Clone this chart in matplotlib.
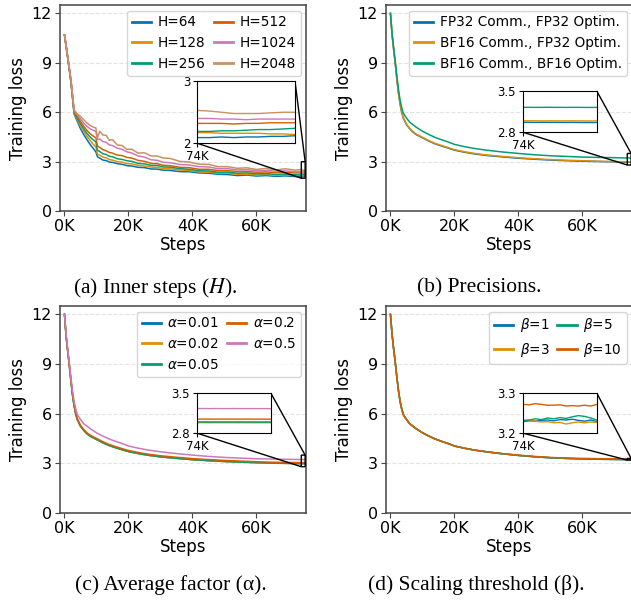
import matplotlib.pyplot as plt
import numpy as np
from matplotlib.ticker import FuncFormatter

pal = ['#0173b2', '#de8f05', '#029e73', '#d55e00', '#cc78bc', '#ca9161']

# (a) inner steps H  -- steps in K
steps_a = [0, 1, 2, 3, 4, 5, 6, 7, 8, 9, 9.8, 10.3, 11, 12, 13, 14, 15, 16.5, 18, 19.5,
           21, 23, 25, 27, 29, 31, 33, 36, 39, 42, 45, 48, 51, 54, 57, 60, 63, 66, 69, 72,
           74, 74.15, 74.3, 74.45, 74.6, 74.75, 74.9, 75.05, 75.2, 75.5]
h_labels = ['H=64', 'H=128', 'H=256', 'H=512', 'H=1024', 'H=2048']
loss_h64 = [10.7, 9.3, 7.85, 5.9, 5.45, 5.0, 4.65, 4.35, 4.05, 3.8, 3.6, 3.3, 3.22, 3.1, 3.07, 2.98, 2.96, 2.88, 2.84, 2.76,
            2.74, 2.66, 2.64, 2.56, 2.55, 2.48, 2.47, 2.4, 2.39, 2.32, 2.3, 2.24, 2.22, 2.16, 2.19, 2.13, 2.16, 2.11, 2.14, 2.1,
            2.09, 2.09, 2.10, 2.09, 2.10, 2.10, 2.11, 2.11, 2.12, 2.12]
loss_h128 = [10.7, 9.3, 7.9, 5.95, 5.55, 5.15, 4.85, 4.55, 4.3, 4.05, 3.9, 3.45, 3.4, 3.28, 3.24, 3.13, 3.1, 3.0, 2.97, 2.88,
             2.87, 2.78, 2.74, 2.68, 2.65, 2.58, 2.57, 2.5, 2.46, 2.38, 2.37, 2.31, 2.3, 2.24, 2.24, 2.19, 2.22, 2.17, 2.21, 2.16,
             2.17, 2.17, 2.16, 2.16, 2.16, 2.16, 2.15, 2.15, 2.14, 2.14]
loss_h256 = [10.7, 9.35, 7.9, 6.0, 5.65, 5.3, 5.0, 4.72, 4.5, 4.32, 4.2, 3.7, 3.62, 3.48, 3.44, 3.33, 3.3, 3.18, 3.14, 3.06,
             3.02, 2.9, 2.87, 2.78, 2.77, 2.68, 2.67, 2.58, 2.54, 2.45, 2.44, 2.36, 2.37, 2.3, 2.32, 2.26, 2.28, 2.23, 2.25, 2.21,
             2.19, 2.19, 2.2, 2.2, 2.21, 2.22, 2.22, 2.23, 2.24, 2.25]
loss_h512 = [10.7, 9.35, 7.95, 6.05, 5.75, 5.45, 5.15, 4.9, 4.7, 4.55, 4.45, 3.95, 3.87, 3.73, 3.67, 3.56, 3.52, 3.4, 3.37, 3.26,
             3.22, 3.08, 3.02, 2.9, 2.88, 2.78, 2.76, 2.66, 2.64, 2.54, 2.54, 2.46, 2.46, 2.4, 2.41, 2.36, 2.38, 2.34, 2.36, 2.32,
             2.32, 2.32, 2.32, 2.31, 2.32, 2.32, 2.33, 2.33, 2.33, 2.33]
loss_h1024 = [10.7, 9.4, 8.0, 6.1, 5.85, 5.6, 5.35, 5.15, 5.0, 4.9, 4.85, 4.35, 4.38, 4.22, 4.18, 4.02, 3.98, 3.82, 3.75, 3.6,
              3.53, 3.35, 3.28, 3.12, 3.08, 2.96, 2.94, 2.83, 2.8, 2.7, 2.68, 2.58, 2.58, 2.5, 2.52, 2.46, 2.48, 2.43, 2.44, 2.4,
              2.40, 2.40, 2.39, 2.39, 2.38, 2.39, 2.39, 2.39, 2.39, 2.39]
loss_h2048 = [10.7, 9.4, 8.0, 6.15, 5.9, 5.75, 5.55, 5.35, 5.2, 5.1, 5.05, 4.45, 4.85, 4.62, 4.6, 4.3, 4.34, 4.02, 3.98, 3.75,
              3.76, 3.52, 3.54, 3.35, 3.34, 3.22, 3.2, 3.02, 2.98, 2.85, 2.84, 2.7, 2.7, 2.6, 2.63, 2.53, 2.6, 2.5, 2.57, 2.49,
              2.53, 2.52, 2.5, 2.48, 2.48, 2.48, 2.49, 2.5, 2.5, 2.51]

# (b), (c), (d) share one step grid (K)
steps = [0, 0.5, 1, 1.5, 2, 2.5, 3, 3.5, 4, 5, 6, 7, 8, 10, 12, 14, 16, 18, 20, 23,
         26, 30, 35, 40, 45, 50, 55, 60, 65, 70,
         74, 74.1, 74.2, 74.3, 74.4, 74.5, 74.6, 74.7, 74.8, 74.9, 75.0, 75.1, 75.2, 75.5]

# (b) precisions
prec_labels = ['FP32 Comm., FP32 Optim.', 'BF16 Comm., FP32 Optim.', 'BF16 Comm., BF16 Optim.']
loss_fp32_fp32 = [12.0, 10.7, 9.8, 8.95, 8.0, 7.15, 6.5, 6.0, 5.65, 5.25, 5.0, 4.8, 4.65, 4.45, 4.25, 4.08, 3.95, 3.83, 3.7, 3.58,
                  3.48, 3.38, 3.29, 3.21, 3.15, 3.1, 3.06, 3.03, 3.01, 2.99,
                  2.97, 2.97, 2.968, 2.97, 2.969, 2.968, 2.968, 2.967, 2.968, 2.967, 2.966, 2.966, 2.966, 2.965]
loss_bf16_fp32 = [12.0, 10.7, 9.8, 8.95, 8.02, 7.18, 6.53, 6.03, 5.68, 5.28, 5.03, 4.83, 4.68, 4.48, 4.28, 4.11, 3.98, 3.86, 3.73, 3.61,
                  3.51, 3.41, 3.32, 3.24, 3.18, 3.13, 3.09, 3.06, 3.03, 3.01,
                  2.995, 2.996, 2.995, 2.994, 2.995, 2.995, 2.994, 2.994, 2.995, 2.994, 2.994, 2.993, 2.994, 2.993]
loss_bf16_bf16 = [12.0, 10.8, 9.9, 9.1, 8.2, 7.4, 6.75, 6.3, 5.95, 5.65, 5.4, 5.25, 5.1, 4.85, 4.65, 4.47, 4.33, 4.2, 4.05, 3.92,
                  3.81, 3.7, 3.59, 3.5, 3.42, 3.36, 3.32, 3.28, 3.26, 3.245,
                  3.225, 3.226, 3.225, 3.225, 3.226, 3.225, 3.225, 3.224, 3.225, 3.225, 3.224, 3.224, 3.224, 3.224]

# (c) average factor alpha
alpha_labels = [r'$\alpha$=0.01', r'$\alpha$=0.02', r'$\alpha$=0.05', r'$\alpha$=0.2', r'$\alpha$=0.5']
loss_a001 = [12.0, 10.7, 9.8, 8.95, 8.0, 7.15, 6.5, 6.0, 5.65, 5.25, 5.0, 4.8, 4.65, 4.45, 4.25, 4.08, 3.95, 3.83, 3.72, 3.6,
             3.5, 3.4, 3.31, 3.23, 3.17, 3.12, 3.08, 3.05, 3.02, 3.0,
             2.99, 2.99, 2.99, 2.99, 2.99, 2.99, 2.99, 2.99, 2.99, 2.99, 2.99, 2.99, 2.99, 2.99]
loss_a002 = [12.0, 10.7, 9.8, 8.95, 8.0, 7.15, 6.5, 6.0, 5.64, 5.24, 4.99, 4.79, 4.64, 4.44, 4.24, 4.07, 3.94, 3.82, 3.71, 3.59,
             3.49, 3.39, 3.3, 3.22, 3.16, 3.11, 3.07, 3.04, 3.01, 2.995,
             2.985, 2.985, 2.984, 2.985, 2.984, 2.984, 2.985, 2.984, 2.984, 2.984, 2.983, 2.984, 2.983, 2.983]
loss_a005 = [12.0, 10.7, 9.8, 8.95, 8.0, 7.15, 6.5, 6.0, 5.65, 5.25, 5.0, 4.8, 4.65, 4.45, 4.25, 4.08, 3.95, 3.83, 3.72, 3.6,
             3.5, 3.4, 3.31, 3.23, 3.17, 3.12, 3.08, 3.05, 3.02, 3.005,
             2.995, 2.996, 2.995, 2.995, 2.996, 2.995, 2.995, 2.996, 2.995, 2.995, 2.994, 2.995, 2.994, 2.994]
loss_a02 = [12.0, 10.7, 9.82, 8.97, 8.03, 7.2, 6.55, 6.05, 5.7, 5.3, 5.05, 4.85, 4.71, 4.51, 4.31, 4.14, 4.01, 3.89, 3.78, 3.66,
            3.56, 3.46, 3.37, 3.29, 3.23, 3.18, 3.14, 3.1, 3.07, 3.055,
            3.047, 3.047, 3.047, 3.046, 3.047, 3.047, 3.046, 3.046, 3.047, 3.046, 3.046, 3.046, 3.046, 3.046]
loss_a05 = [12.0, 10.8, 9.9, 9.1, 8.2, 7.4, 6.75, 6.3, 5.95, 5.65, 5.4, 5.25, 5.1, 4.85, 4.65, 4.47, 4.33, 4.2, 4.05, 3.92,
            3.81, 3.7, 3.59, 3.5, 3.42, 3.36, 3.32, 3.28, 3.26, 3.245,
            3.232, 3.232, 3.231, 3.232, 3.231, 3.231, 3.232, 3.231, 3.231, 3.231, 3.23, 3.231, 3.23, 3.23]

# (d) scaling threshold beta
beta_labels = [r'$\beta$=1', r'$\beta$=3', r'$\beta$=5', r'$\beta$=10']
loss_b1 = [12.0, 10.8, 9.9, 9.1, 8.2, 7.4, 6.75, 6.3, 5.95, 5.65, 5.4, 5.25, 5.1, 4.85, 4.65, 4.47, 4.33, 4.2, 4.05, 3.92,
           3.81, 3.7, 3.58, 3.48, 3.4, 3.34, 3.3, 3.27, 3.25, 3.24,
           3.229, 3.231, 3.230, 3.232, 3.233, 3.231, 3.234, 3.233, 3.235, 3.232, 3.230, 3.233, 3.229, 3.229]
loss_b3 = [12.0, 10.8, 9.9, 9.1, 8.2, 7.4, 6.75, 6.3, 5.95, 5.65, 5.4, 5.25, 5.1, 4.85, 4.65, 4.47, 4.33, 4.2, 4.05, 3.92,
           3.81, 3.7, 3.58, 3.48, 3.4, 3.34, 3.3, 3.27, 3.25, 3.24,
           3.232, 3.233, 3.230, 3.228, 3.229, 3.226, 3.227, 3.223, 3.226, 3.228, 3.226, 3.228, 3.227, 3.227]
loss_b5 = [12.0, 10.8, 9.9, 9.1, 8.2, 7.4, 6.75, 6.3, 5.95, 5.65, 5.4, 5.25, 5.1, 4.85, 4.65, 4.47, 4.33, 4.2, 4.05, 3.92,
           3.81, 3.7, 3.58, 3.48, 3.4, 3.34, 3.3, 3.27, 3.25, 3.24,
           3.231, 3.233, 3.236, 3.234, 3.238, 3.236, 3.239, 3.237, 3.241, 3.244, 3.242, 3.238, 3.233, 3.233]
loss_b10 = [12.0, 10.8, 9.9, 9.1, 8.2, 7.4, 6.75, 6.3, 5.95, 5.65, 5.4, 5.25, 5.1, 4.85, 4.65, 4.47, 4.33, 4.2, 4.05, 3.92,
            3.81, 3.7, 3.59, 3.5, 3.42, 3.36, 3.32, 3.3, 3.285, 3.278,
            3.272, 3.271, 3.274, 3.272, 3.270, 3.270, 3.271, 3.268, 3.269, 3.268, 3.270, 3.268, 3.272, 3.272]

kfmt = FuncFormatter(lambda v, p: '%dK' % round(v / 1000))
gfmt = FuncFormatter(lambda v, p: '%g' % round(v, 2))


def panel(ax, x, ys, labels, ncol, inset_pos, ylo, yhi, caption, cap_x, cap_y):
    x = np.array(x) * 1000
    for i, (y, lab) in enumerate(zip(ys, labels)):
        ax.plot(x, y, color=pal[i], lw=1.1, label=lab)
    ax.set_xlim(-1400, 75500)
    ax.set_ylim(0, 12.5)
    ax.set_yticks([0, 3, 6, 9, 12])
    ax.set_xticks([0, 20000, 40000, 60000])
    ax.xaxis.set_major_formatter(kfmt)
    ax.grid(axis='y', ls='--', color='#e4e4e4', lw=0.8)
    ax.set_axisbelow(True)
    for s in ax.spines.values():
        s.set_color('#444444')
        s.set_linewidth(1.1)
    ax.tick_params(labelsize=11.5, length=3.5, color='#444444', pad=2.5)
    ax.set_xlabel('Steps', fontsize=12, labelpad=1)
    ax.set_ylabel('Training loss', fontsize=12, labelpad=3)
    leg = ax.legend(loc='upper right', ncol=ncol, fontsize=9.8, handlelength=1.4,
                    handletextpad=0.5, columnspacing=0.6, borderpad=0.35,
                    labelspacing=0.5, borderaxespad=0.4)
    for ln in leg.get_lines():
        ln.set_linewidth(2.0)

    axins = ax.inset_axes(inset_pos)
    for i, y in enumerate(ys):
        axins.plot(x, y, color=pal[i], lw=1.0)
    axins.set_xlim(74000, 75200)
    axins.set_ylim(ylo, yhi)
    axins.set_xticks([74000])
    axins.set_yticks([ylo, yhi])
    axins.xaxis.set_major_formatter(kfmt)
    axins.yaxis.set_major_formatter(gfmt)
    axins.tick_params(labelsize=8.5, length=3, pad=2)
    for s in axins.spines.values():
        s.set_color('black')
    ax.indicate_inset_zoom(axins, edgecolor='black', alpha=1.0, linewidth=1.0)

    fig.text(cap_x, cap_y, caption, ha='center', va='center', fontsize=15.5,
             family='Liberation Serif', math_fontfamily='stix')


fig = plt.figure(figsize=(6.31, 6.05), dpi=100)
ax_a = fig.add_axes([0.0951, 0.651, 0.390, 0.3405])
ax_b = fig.add_axes([0.6117, 0.651, 0.390, 0.3405])
ax_c = fig.add_axes([0.0951, 0.152, 0.390, 0.342])
ax_d = fig.add_axes([0.6117, 0.152, 0.390, 0.342])

panel(ax_a, steps_a, [loss_h64, loss_h128, loss_h256, loss_h512, loss_h1024, loss_h2048],
      h_labels, 2, [0.557, 0.33, 0.398, 0.30], 2, 3,
      '(a) Inner steps ($H$).', 0.246, 0.524)
panel(ax_b, steps, [loss_fp32_fp32, loss_bf16_fp32, loss_bf16_bf16],
      prec_labels, 1, [0.557, 0.383, 0.30, 0.199], 2.8, 3.5,
      '(b) Precisions.', 0.76, 0.524)
panel(ax_c, steps, [loss_a001, loss_a002, loss_a005, loss_a02, loss_a05],
      alpha_labels, 2, [0.557, 0.386, 0.30, 0.193], 2.8, 3.5,
      '(c) Average factor (\u03b1).', 0.271, 0.033)
panel(ax_d, steps, [loss_b1, loss_b3, loss_b5, loss_b10],
      beta_labels, 2, [0.557, 0.386, 0.30, 0.193], 3.2, 3.3,
      '(d) Scaling threshold (\u03b2).', 0.755, 0.033)

fig.savefig('out.png', dpi=100)
